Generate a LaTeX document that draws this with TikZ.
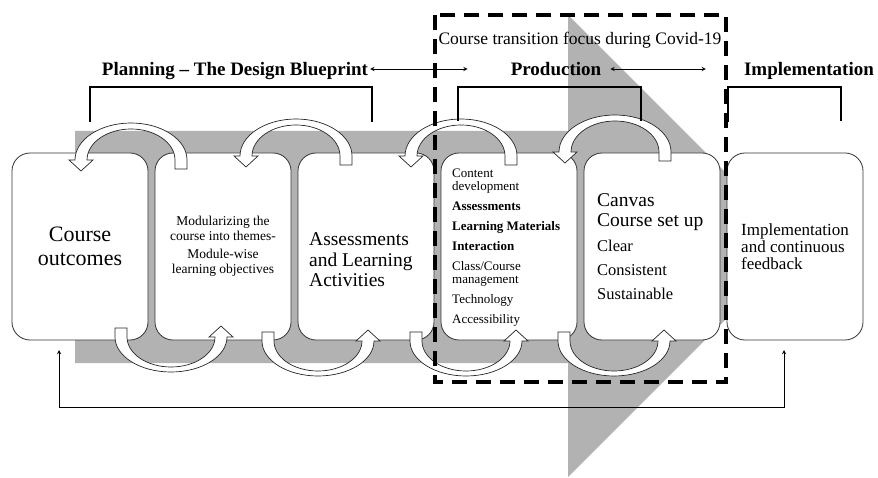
\documentclass[tikz,border=0pt]{standalone}
\usepackage{fontspec}
\setmainfont{Liberation Serif}
\usetikzlibrary{shapes.geometric, arrows}
\usetikzlibrary{positioning}
\tikzstyle{stage} = [rectangle, rounded corners=18pt, minimum width=136pt, minimum
height=187pt, inner sep=0pt, outer sep=0pt, draw=black!80, line width=0.8pt, fill=white]
\tikzstyle{ribbon} = [draw=black!85, line width=0.7pt, fill=white]
\tikzstyle{txt} = [inner sep=0pt, align=left, anchor=west]
\tikzstyle{heading} = [font=\fontsize{19}{21}\selectfont\bfseries, inner sep=1pt, anchor=base]
\tikzstyle{bracket} = [line width=1.2pt]
\tikzstyle{arrow} = [line width=0.9pt,<->,>=stealth]
\tikzstyle{focus} = [line width=3.2pt, dash pattern=on 15pt off 9pt]

\begin{document}
\begin{tikzpicture}[x=1pt,y=-1pt]
    \useasboundingbox (0,0) rectangle (878,478);
    \fill[gray!60] (75,131) -- (568,131) -- (568,15) -- (799,246) -- (568,477) -- (568,363) -- (75,363) -- cycle;

    \node (outcomes) [stage] at (80,246.5) {};
    \node (modules) [stage, right=7pt of outcomes] {};
    \node (assessments) [stage, right=7pt of modules] {};
    \node (content) [stage, right=7pt of assessments] {};
    \node (canvas) [stage, right=7pt of content] {};
    \node (implementation) [stage, right=7pt of canvas] {};

    \foreach \cx/\cy in {131/160, 296/156, 461/156, 615/152}
        \draw[ribbon] (\cx+44,\cy+9) -- (\cx+56,\cy+9) -- (\cx+56,\cy) arc[start angle=0, end angle=-180, x radius=56, y radius=37]
            -- (\cx-62,\cy) -- (\cx-50,\cy+11) -- (\cx-38,\cy) -- (\cx-44,\cy) arc[start angle=-180, end angle=0, x radius=44, y radius=31] -- cycle;
    \foreach \cx/\cy in {171/337, 318/341, 466/341, 614/341}
        \draw[ribbon] (\cx-56,\cy-9) -- (\cx-44,\cy-9) -- (\cx-44,\cy) arc[start angle=180, end angle=0, x radius=44, y radius=30]
            -- (\cx+38,\cy) -- (\cx+50,\cy-11) -- (\cx+62,\cy) -- (\cx+56,\cy) arc[start angle=0, end angle=180, x radius=56, y radius=35] -- cycle;

    \node (outcomestxt) [txt, align=center, anchor=center, font=\fontsize{22}{24}\selectfont] at (outcomes) {Course\\outcomes};
    \node (modulestxt) [txt, align=center, anchor=center, font=\fontsize{13.5}{15}\selectfont] at (modules) {Modularizing the\\course into themes-\\[3pt]Module-wise\\learning objectives};
    \node (assesstxt) [txt, font=\fontsize{19.5}{20.5}\selectfont] at ([xshift=11pt,yshift=-13.5pt]assessments.west) {Assessments\\and Learning\\Activities};
    \node (contenttxt) [txt, font=\fontsize{13}{13}\selectfont] at ([xshift=11pt,yshift=-1pt]content.west) {Content\\development\\[7pt]\textbf{Assessments}\\[7pt]\textbf{Learning Materials}\\[7pt]\textbf{Interaction}\\[7pt]Class/Course\\management\\[7pt]Technology\\[7pt]Accessibility};
    \node (canvastxt) [txt, font=\fontsize{16.5}{24}\selectfont] at ([xshift=13pt]canvas.west) {{\fontsize{19.5}{20}\selectfont Canvas}\\[-4pt]{\fontsize{19.5}{20}\selectfont Course set up}\\[1pt]Clear\\Consistent\\Sustainable};
    \node (impltxt) [txt, font=\fontsize{17}{17}\selectfont] at ([xshift=14pt]implementation.west) {Implementation\\and continuous\\feedback};

    \draw[bracket] (90,122) |- (372,87) -- (372,122);
    \draw[bracket] (458,121) |- (641,87) -- (641,121);
    \draw[bracket] (728,122) |- (841,87) -- (841,121);

    \node (planning) [heading] at (235,76) {Planning -- The Design Blueprint};
    \node (production) [heading] at (556,76) {Production};
    \node (implhead) [heading] at (809,76) {Implementation};
    \node (focustxt) [font=\fontsize{17.5}{19}\selectfont, anchor=base] at (580,45) {Course transition focus during Covid-19};

    \draw[arrow] ([xshift=1pt,yshift=7pt]planning.base east) -- ([xshift=-42pt,yshift=7pt]production.base west);
    \draw[arrow] ([xshift=8pt,yshift=7pt]production.base east) -- ([xshift=-37pt,yshift=7pt]implhead.base west);

    \draw[focus] (435,15) rectangle (726,382);

    \draw[arrow] ([xshift=-11pt,yshift=-10pt]implementation.south) -- ++(0,57) -| ([xshift=-21pt,yshift=-10pt]outcomes.south);
\end{tikzpicture}
\end{document}
